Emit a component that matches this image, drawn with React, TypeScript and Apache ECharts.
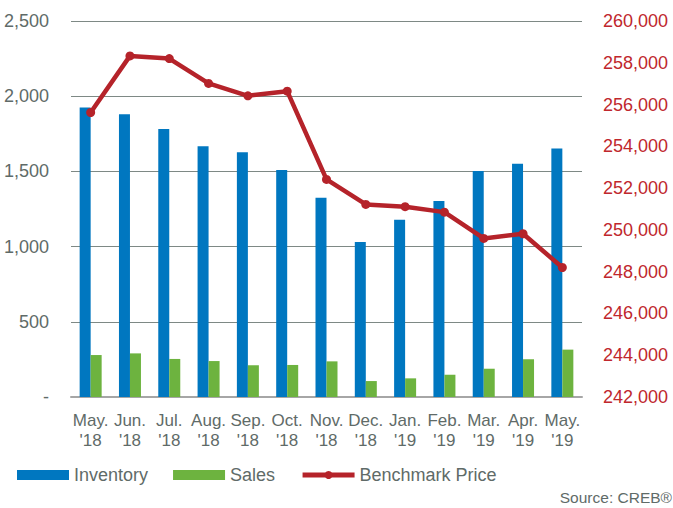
import React, { useEffect, useRef } from "react";
import * as echarts from "echarts";

const categories = [
  "May.\n'18", "Jun.\n'18", "Jul.\n'18", "Aug.\n'18", "Sep.\n'18", "Oct.\n'18", "Nov.\n'18",
  "Dec.\n'18", "Jan.\n'19", "Feb.\n'19", "Mar.\n'19", "Apr.\n'19", "May.\n'19",
];
const inventory = [1925, 1880, 1782, 1667, 1627, 1509, 1325, 1031, 1179, 1303, 1503, 1551, 1653];
const sales = [279, 290, 253, 239, 211, 213, 237, 106, 124, 148, 188, 251, 315];
const benchmarkPrice = [
  255620, 258330, 258200, 257010, 256420, 256640, 252415, 251220, 251110, 250850, 249590, 249815, 248200,
];
const leftTicks = { min: 0, max: 2500, interval: 500 };
const rightTicks = { min: 242000, max: 260000, interval: 2000 };
const sourceText = "Source: CREB®";

const FONT = "'Liberation Sans', Arial, sans-serif";
const GRAY = "#5f6b68";
const RED = "#b5232a";
const BLUE = "#0077c0";
const GREEN = "#6db33f";

export default function App() {
  const ref = useRef<HTMLDivElement>(null);
  useEffect(() => {
    if (!ref.current) return;
    const chart = echarts.init(ref.current, null, { renderer: "svg" });
    const fmt = (v: number) => (v === 0 ? "-" : v.toLocaleString("en-US"));
    chart.setOption({
      animation: false,
      textStyle: { fontFamily: FONT },
      grid: { left: 71, right: 91, top: 21, bottom: 111, containLabel: false },
      legend: {
        left: 17,
        top: 466,
        padding: 0,
        itemWidth: 52,
        itemHeight: 10,
        itemGap: 25,
        textStyle: { color: GRAY, fontSize: 18, fontFamily: FONT },
        data: [
          { name: "Inventory", icon: "rect" },
          { name: "Sales", icon: "rect" },
          {
            name: "Benchmark Price",
            lineStyle: { width: 5, color: RED },
            itemStyle: { color: RED },
          },
        ],
      },
      xAxis: {
        type: "category",
        data: categories,
        axisTick: { show: false },
        axisLine: { lineStyle: { color: "#a6a6a6", width: 2 } },
        axisLabel: {
          interval: 0,
          color: GRAY,
          fontSize: 17,
          lineHeight: 20,
          margin: 13,
          fontFamily: FONT,
        },
      },
      yAxis: [
        {
          type: "value",
          min: leftTicks.min,
          max: leftTicks.max,
          interval: leftTicks.interval,
          axisLine: { show: false },
          axisTick: { show: false },
          splitLine: { lineStyle: { color: "#7e8985", width: 1 } },
          axisLabel: { color: GRAY, fontSize: 18, margin: 22, formatter: fmt, fontFamily: FONT },
        },
        {
          type: "value",
          min: rightTicks.min,
          max: rightTicks.max,
          interval: rightTicks.interval,
          position: "right",
          axisLine: { show: false },
          axisTick: { show: false },
          splitLine: { show: false },
          axisLabel: { color: "#c0272d", fontSize: 18, margin: 21, formatter: fmt, fontFamily: FONT },
        },
      ],
      series: [
        {
          name: "Inventory",
          type: "bar",
          data: inventory,
          barWidth: 11,
          barGap: "0%",
          itemStyle: { color: BLUE },
        },
        {
          name: "Sales",
          type: "bar",
          data: sales,
          barWidth: 11,
          barGap: "0%",
          itemStyle: { color: GREEN },
        },
        {
          name: "Benchmark Price",
          type: "line",
          yAxisIndex: 1,
          data: benchmarkPrice,
          symbol: "circle",
          symbolSize: 9,
          lineStyle: { color: RED, width: 4.5 },
          itemStyle: { color: RED },
          z: 5,
        },
      ],
      graphic: [
        {
          type: "text",
          x: 672,
          y: 497,
          style: {
            text: sourceText,
            fill: GRAY,
            fontSize: 15.5,
            fontFamily: FONT,
            align: "right",
            verticalAlign: "middle",
          },
        },
      ],
    });
    return () => chart.dispose();
  }, []);
  return (
    <div
      ref={ref}
      style={{ position: "fixed", left: 0, top: 0, width: 673, height: 508, background: "#fff" }}
    />
  );
}
